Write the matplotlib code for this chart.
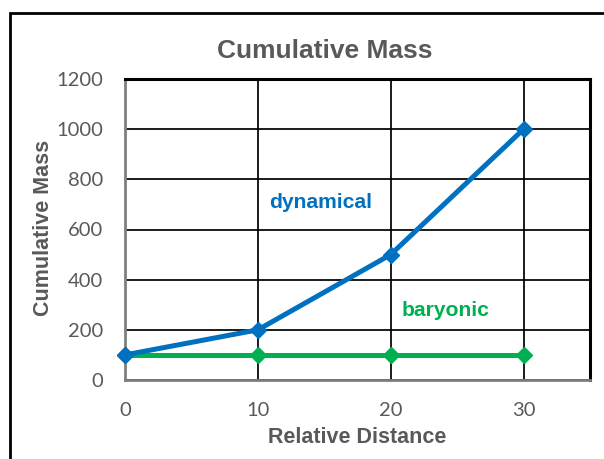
import matplotlib
matplotlib.use("Agg")
import matplotlib.pyplot as plt
from matplotlib.patches import Rectangle

distance = [0, 10, 20, 30]
dynamical = [100, 200, 500, 1000]
baryonic = [100, 100, 100, 100]
x_ticks = [0, 10, 20, 30]
y_ticks = [0, 200, 400, 600, 800, 1000, 1200]

BLUE = "#0070C0"
GREEN = "#00B050"
GRAY = "#595959"
W, H = 604, 459

fig = plt.figure(figsize=(W / 100, H / 100), dpi=100)
L, R, T, B = 125, 590, 79, 380
ax = fig.add_axes([L / W, 1 - B / H, (R - L) / W, (B - T) / H])

# outer chart frame (extends past right/bottom edge of image)
fig.patches.append(Rectangle((10 / W, -0.2), 1.2, 1.2 - 13 / H,
                             transform=fig.transFigure, fill=False,
                             edgecolor="black", linewidth=2, clip_on=False))

ax.plot(distance, baryonic, color=GREEN, lw=3.6, marker="D", ms=8.5,
        zorder=3, clip_on=False)
ax.plot(distance, dynamical, color=BLUE, lw=3.6, marker="D", ms=8.5,
        zorder=4, clip_on=False)

ax.set_xlim(0, 35)
ax.set_ylim(0, 1200)
ax.set_xticks([0, 10, 20, 30, 35])
ax.set_xticklabels([str(v) for v in x_ticks] + [""])
ax.set_yticks(y_ticks)
ax.set_yticklabels([str(v) for v in y_ticks])
ax.grid(True, color="black", lw=1.25)
ax.set_axisbelow(True)
ax.tick_params(length=0, labelsize=14.5, labelcolor=GRAY)
ax.tick_params(axis="y", pad=15.5)
ax.tick_params(axis="x", pad=16)
for lab in ax.get_xticklabels() + ax.get_yticklabels():
    lab.set_family(["Lato", "DejaVu Sans"])

for side in ["top", "right"]:
    ax.spines[side].set_color("black")
    ax.spines[side].set_linewidth(2.2)
for side in ["left", "bottom"]:
    ax.spines[side].set_color("#7f7f7f")
    ax.spines[side].set_linewidth(2)

fig.text(325 / W, 1 - 58 / H, "Cumulative Mass", fontsize=19, fontweight="bold",
         color=GRAY, family="Liberation Sans", ha="center", va="baseline")

ax.set_xlabel("Relative Distance", fontsize=15.5, fontweight="bold", color=GRAY,
              family="Liberation Sans", va="baseline")
ax.xaxis.set_label_coords(0.5, (B - 443) / (B - T))
ax.set_ylabel("Cumulative Mass", fontsize=15.5, fontweight="bold", color=GRAY,
              family="Liberation Sans", va="baseline")
ax.yaxis.set_label_coords((49 - L) / (R - L), (B - 227.5) / (B - T))

ax.text(14.74, 684, "dynamical", color=BLUE, fontsize=15.2, fontweight="bold",
        family="Liberation Sans", ha="center", va="baseline")
ax.text(24.09, 256, "baryonic", color=GREEN, fontsize=15.2, fontweight="bold",
        family="Liberation Sans", ha="center", va="baseline")

fig.savefig("out.png", dpi=100)
